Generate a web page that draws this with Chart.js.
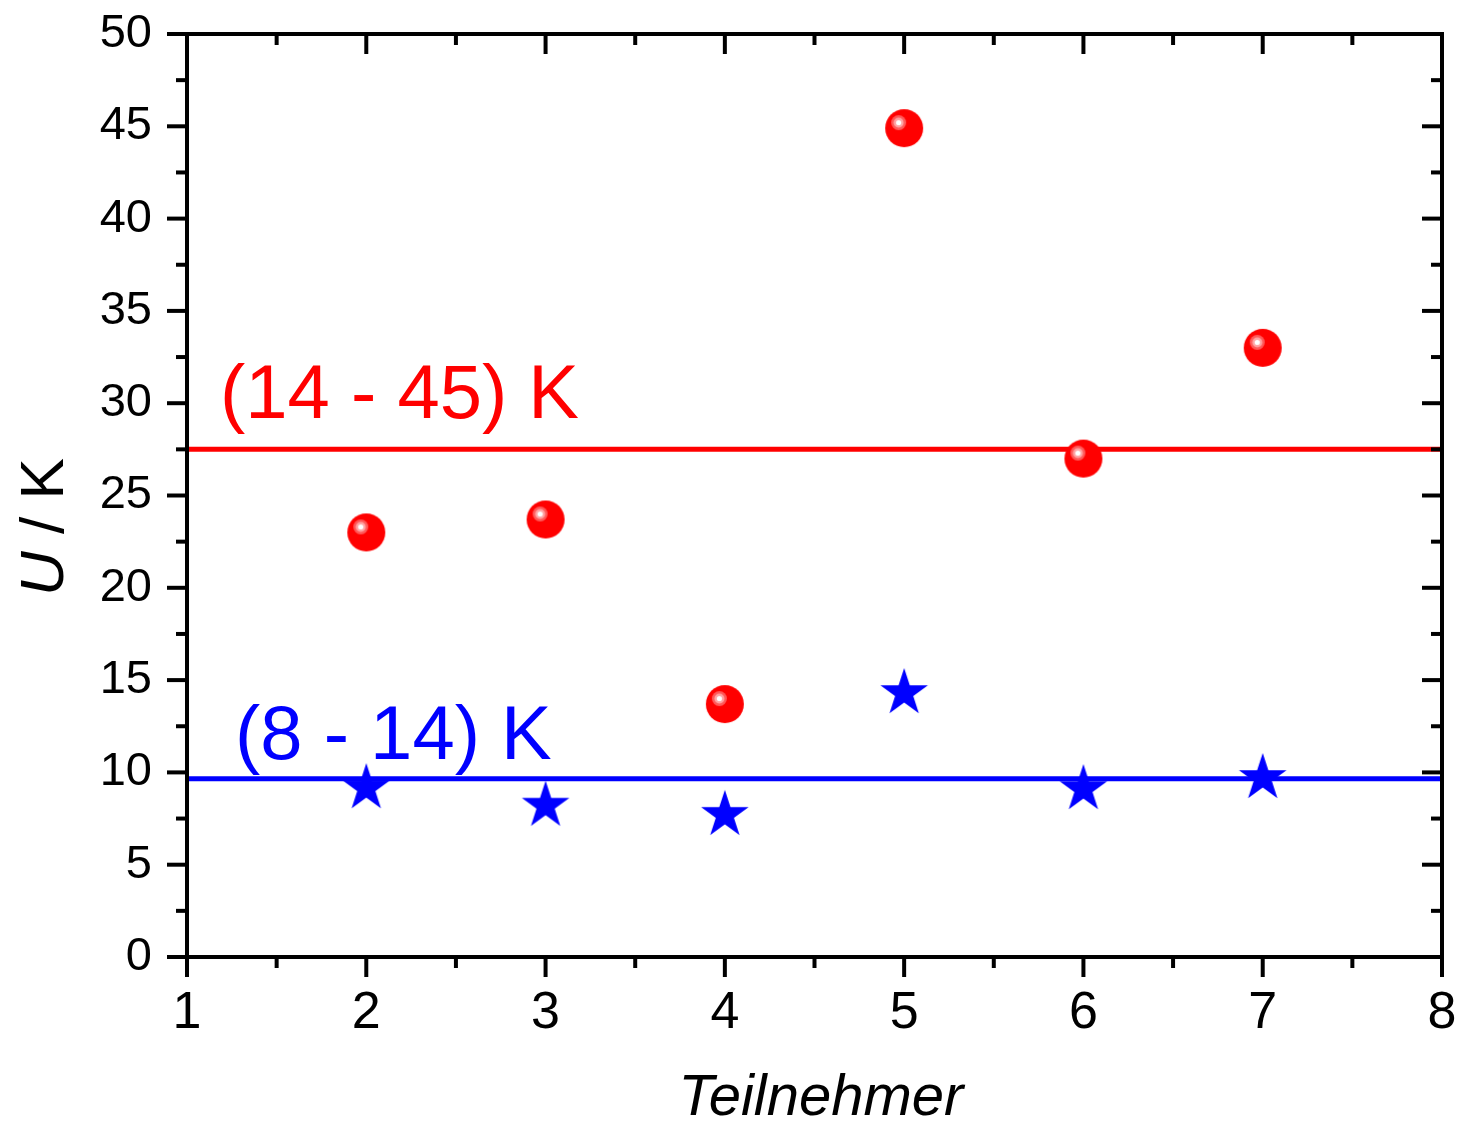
<!DOCTYPE html>
<html>
<head>
<meta charset="utf-8">
<title>U / K je Teilnehmer</title>
<script src="https://cdn.jsdelivr.net/npm/chart.js@4.4.1/dist/chart.umd.min.js"></script>
<style>
  html, body { margin: 0; padding: 0; background: #fff; }
  #chart { display: block; }
</style>
</head>
<body>
<canvas id="chart" width="1458" height="1121"></canvas>
<script>
// data
const participants = [2, 3, 4, 5, 6, 7];
const upperValues = [23.0, 23.7, 13.7, 44.9, 27.0, 33.0];
const lowerValues = [9.15, 8.2, 7.7, 14.3, 9.1, 9.7];
const upperMean = 27.5;
const lowerMean = 9.65;
const upperLabel = "(14 - 45) K";
const lowerLabel = "(8 - 14) K";

// axes
const xMajor = [1, 2, 3, 4, 5, 6, 7, 8];
const xMinor = [1.5, 2.5, 3.5, 4.5, 5.5, 6.5, 7.5];
const yMajor = [0, 5, 10, 15, 20, 25, 30, 35, 40, 45, 50];
const yMinor = [2.5, 7.5, 12.5, 17.5, 22.5, 27.5, 32.5, 37.5, 42.5, 47.5];

const FONT = "'Liberation Sans', Arial, sans-serif";
const RED = "#ff0000";
const BLUE = "#0000ff";

// shiny red ball marker
function makeSphere() {
  const c = document.createElement("canvas");
  c.width = 40; c.height = 40;
  const g = c.getContext("2d");
  g.fillStyle = RED;
  g.beginPath(); g.arc(20, 20, 19, 0, Math.PI * 2); g.fill();
  g.fillStyle = "rgba(255,255,255,0.35)";
  g.beginPath(); g.arc(14.5, 14.5, 7.5, 0, Math.PI * 2); g.fill();
  g.fillStyle = "rgba(255,255,255,0.45)";
  g.beginPath(); g.arc(14.5, 14.5, 5, 0, Math.PI * 2); g.fill();
  g.fillStyle = "#ffffff";
  g.beginPath(); g.arc(14.5, 14.5, 2.6, 0, Math.PI * 2); g.fill();
  return c;
}

// filled blue star marker
function makeStar() {
  const c = document.createElement("canvas");
  c.width = 54; c.height = 54;
  const g = c.getContext("2d");
  const R = 25, r = R * 0.382;
  g.fillStyle = BLUE;
  g.beginPath();
  for (let i = 0; i < 10; i++) {
    const rad = i % 2 === 0 ? R : r;
    const a = -Math.PI / 2 + i * Math.PI / 5;
    const px = 27 + rad * Math.cos(a), py = 27 + rad * Math.sin(a);
    if (i === 0) g.moveTo(px, py); else g.lineTo(px, py);
  }
  g.closePath(); g.fill();
  return c;
}

// frame with outer ticks left/bottom, inner ticks top/right, plus texts
const framePlugin = {
  id: "frame",
  afterDraw(chart) {
    const ctx = chart.ctx;
    const xs = chart.scales.x, ys = chart.scales.y;
    const a = chart.chartArea;
    ctx.save();
    ctx.strokeStyle = "#000";
    ctx.lineWidth = 4;
    ctx.lineCap = "butt";
    ctx.strokeRect(a.left, a.top, a.right - a.left, a.bottom - a.top);
    const tick = (x1, y1, x2, y2) => {
      ctx.beginPath(); ctx.moveTo(x1, y1); ctx.lineTo(x2, y2); ctx.stroke();
    };
    xMajor.forEach(v => {
      const px = xs.getPixelForValue(v);
      tick(px, a.bottom, px, a.bottom + 20);
      tick(px, a.top, px, a.top + 20);
    });
    xMinor.forEach(v => {
      const px = xs.getPixelForValue(v);
      tick(px, a.bottom, px, a.bottom + 11);
      tick(px, a.top, px, a.top + 11);
    });
    yMajor.forEach(v => {
      const py = ys.getPixelForValue(v);
      tick(a.left - 20, py, a.left, py);
      tick(a.right - 20, py, a.right, py);
    });
    yMinor.forEach(v => {
      const py = ys.getPixelForValue(v);
      tick(a.left - 11, py, a.left, py);
      tick(a.right - 11, py, a.right, py);
    });

    // range labels above the mean lines
    ctx.textBaseline = "alphabetic";
    ctx.textAlign = "left";
    ctx.font = "76px " + FONT;
    ctx.fillStyle = RED;
    ctx.fillText(upperLabel, xs.getPixelForValue(1) + 33, ys.getPixelForValue(upperMean) - 31);
    ctx.fillStyle = BLUE;
    ctx.fillText(lowerLabel, xs.getPixelForValue(1) + 48, ys.getPixelForValue(lowerMean) - 20);

    // x title
    ctx.fillStyle = "#000";
    ctx.textAlign = "center";
    ctx.textBaseline = "alphabetic";
    ctx.font = "italic 58px " + FONT;
    ctx.fillText("Teilnehmer", 821, 1115);

    // y title: italic U, upright "/ K"
    ctx.translate(63, 527);
    ctx.rotate(-Math.PI / 2);
    ctx.font = "italic 62px " + FONT;
    const wU = ctx.measureText("U").width;
    ctx.font = "62px " + FONT;
    const wRest = ctx.measureText(" / K").width;
    const start = -(wU + wRest) / 2;
    ctx.textAlign = "left";
    ctx.font = "italic 62px " + FONT;
    ctx.fillText("U", start, 0);
    ctx.font = "62px " + FONT;
    ctx.fillText(" / K", start + wU, 0);
    ctx.restore();
  }
};

new Chart(document.getElementById("chart"), {
  type: "scatter",
  data: {
    datasets: [
      {
        type: "line",
        data: [{ x: 1, y: upperMean }, { x: 8, y: upperMean }],
        borderColor: RED,
        borderWidth: 5,
        pointRadius: 0,
        order: 3
      },
      {
        type: "line",
        data: [{ x: 1, y: lowerMean }, { x: 8, y: lowerMean }],
        borderColor: BLUE,
        borderWidth: 5,
        pointRadius: 0,
        order: 3
      },
      {
        data: participants.map((p, i) => ({ x: p, y: upperValues[i] })),
        pointStyle: makeSphere(),
        pointRadius: 19,
        order: 1
      },
      {
        data: participants.map((p, i) => ({ x: p, y: lowerValues[i] })),
        pointStyle: makeStar(),
        pointRadius: 25,
        order: 1
      }
    ]
  },
  options: {
    responsive: false,
    animation: false,
    devicePixelRatio: 1,
    layout: { autoPadding: false, padding: { top: 34, right: 16, left: 0, bottom: 0 } },
    plugins: {
      legend: { display: false },
      tooltip: { enabled: false }
    },
    scales: {
      x: {
        type: "linear",
        min: 1,
        max: 8,
        grid: { display: false },
        border: { display: false },
        afterBuildTicks: s => { s.ticks = xMajor.map(v => ({ value: v })); },
        ticks: {
          color: "#000",
          font: { family: FONT, size: 52 },
          padding: 17,
          maxRotation: 0
        },
        afterFit: s => {
          s.height = 164;
          s.paddingLeft = 0; s.paddingRight = 0;
        }
      },
      y: {
        type: "linear",
        min: 0,
        max: 50,
        grid: { display: false },
        border: { display: false },
        afterBuildTicks: s => { s.ticks = yMajor.map(v => ({ value: v })); },
        ticks: {
          color: "#000",
          font: { family: FONT, size: 47 },
          padding: 27
        },
        afterFit: s => {
          s.width = 187;
          s.paddingTop = 0; s.paddingBottom = 0;
        }
      }
    }
  },
  plugins: [framePlugin]
});
</script>
</body>
</html>
